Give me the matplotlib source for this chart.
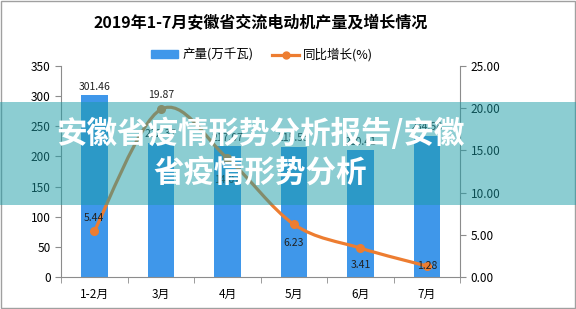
import matplotlib
matplotlib.use('Agg')
import matplotlib.pyplot as plt
from matplotlib.path import Path
from matplotlib.patches import PathPatch, Rectangle
from matplotlib.lines import Line2D
from matplotlib.patches import Patch
import numpy as np

plt.rcParams['font.family'] = ['Noto Sans CJK SC', 'DejaVu Sans']

months = ['1-2月', '3月', '4月', '5月', '6月', '7月']
output = [301.46, 222.37, 217.07, 215.53, 210.41, 234.58]
growth = [5.44, 19.87, 14.07, 6.23, 3.41, 1.28]

title = '2019年1-7月安徽省交流电动机产量及增长情况'
banner = '安徽省疫情形势分析报告/安徽\n省疫情形势分析'

bar_color = '#3f97ea'
line_color = '#ed7d31'
axis_color = '#8c8c8c'

fig = plt.figure(figsize=(5.76, 3.09), dpi=100)
ax = fig.add_axes([0.106, 0.104, 0.693, 0.682])
ax2 = ax.twinx()

x = np.arange(len(months))
bars = ax.bar(x, output, width=0.4, color=bar_color, zorder=2)
for xi, v in zip(x, output):
    ax.text(xi, v + 6, f'{v:.2f}', ha='center', va='bottom', fontsize=7.5, color='#222222')

ax.set_xlim(-0.5, len(months) - 0.5)
ax.set_ylim(0, 350)
ax.set_yticks(range(0, 351, 50))
ax.set_xticks(x)
ax.set_xticklabels(months, fontsize=8.5)
ax.set_xticks(np.arange(-0.5, len(months), 1), minor=True)
ax.tick_params(axis='x', which='major', length=0, pad=8)
ax.tick_params(axis='x', which='minor', length=4, color=axis_color)
ax.tick_params(axis='y', length=4, color=axis_color, labelsize=8.5)

ax2.set_ylim(0, 25)
ax2.set_yticks(range(0, 26, 5))
ax2.set_yticklabels([f'{t:.2f}' for t in range(0, 26, 5)], fontsize=8.5)
ax2.tick_params(axis='y', length=4, color=axis_color)

for a in (ax, ax2):
    a.spines['top'].set_visible(False)
    for s in ('left', 'right', 'bottom'):
        a.spines[s].set_color(axis_color)
ax.spines['right'].set_visible(False)
ax2.spines['left'].set_visible(False)
ax2.spines['bottom'].set_visible(False)

# smooth line through the points (Catmull-Rom as cubic Bezier segments)
pts = np.column_stack([x, growth]).astype(float)
verts = [tuple(pts[0])]
codes = [Path.MOVETO]
for i in range(len(pts) - 1):
    p0 = pts[i - 1] if i > 0 else pts[i]
    p1, p2 = pts[i], pts[i + 1]
    p3 = pts[i + 2] if i + 2 < len(pts) else pts[i + 1]
    c1 = p1 + (p2 - p0) / 6
    c2 = p2 - (p3 - p1) / 6
    verts += [tuple(c1), tuple(c2), tuple(p2)]
    codes += [Path.CURVE4] * 3
ax2.add_patch(PathPatch(Path(verts, codes), facecolor='none', edgecolor=line_color,
                        lw=2.3, capstyle='round', zorder=3))
ax2.plot(x, growth, 'o', color=line_color, ms=5.5, zorder=4)

label_off = [(0, 1.6), (0, 1.7), (0, -2.6), (0, -2.2), (0, -2.0), (0, 0.0)]
for xi, v, (dx, dy) in zip(x, growth, label_off):
    ax2.text(xi + dx, v + dy, f'{v:.2f}', ha='center', va='center', fontsize=7.5, color='#222222', zorder=5)

fig.text(0.453, 0.925, title, ha='center', va='center', fontsize=11.5, fontweight='bold')

handles = [Patch(color=bar_color), Line2D([], [], color=line_color, lw=2.3, marker='o', ms=5)]
fig.legend(handles, ['产量(万千瓦)', '同比增长(%)'], loc='center', bbox_to_anchor=(0.455, 0.822),
           ncol=2, frameon=False, fontsize=9, handlelength=2.2, handleheight=0.6,
           columnspacing=1.5, handletextpad=0.3)

# teal banner over the chart
fig.add_artist(Rectangle((0, 0.335), 1, 0.335, transform=fig.transFigure,
                         facecolor='#1a9ca6', alpha=0.5, edgecolor='none', zorder=10))
fig.text(0.452, 0.505, banner, ha='center', va='center', fontsize=22, fontweight='bold',
         color='white', linespacing=1.25, zorder=11)

fig.add_artist(Rectangle((0.002, 0.003), 0.996, 0.994, transform=fig.transFigure,
                         facecolor='none', edgecolor='#a0a0a0', lw=1))

fig.savefig('out.png', dpi=100)
